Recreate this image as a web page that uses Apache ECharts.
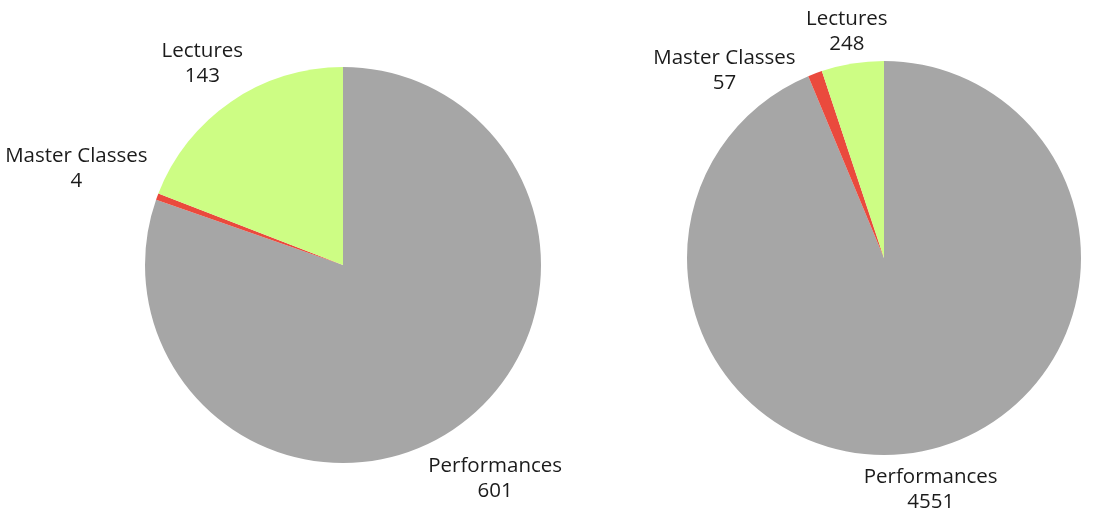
<!DOCTYPE html>
<html><head><meta charset="utf-8">
<script src="https://cdn.jsdelivr.net/npm/echarts@6/dist/echarts.min.js"></script>
<style>html,body{margin:0;padding:0;background:#fff}#c{width:1107px;height:531px}</style>
</head><body><div id="c"></div>
<script>
const categories = ['Performances', 'Master Classes', 'Lectures'];
const leftValues = [601, 4, 143];
const rightValues = [4551, 57, 248];
const colors = ['#a6a6a6', '#ea4a3d', '#cdfd84'];

// label nudges (style only)
const leftOffsets = [[8, 11], [-33, -10], [0, 4]];
const rightOffsets = [[1, 3], [-78, 31], [0, 4]];

const labelFont = { fontFamily: 'Open Sans', fontSize: 20.5, lineHeight: 25, color: '#1b1b1b' };

function pieData(vals) {
  return categories.map((n, i) => ({ name: n, value: vals[i], itemStyle: { color: colors[i] } }));
}
function labelData(vals, offs) {
  return categories.map((n, i) => ({ name: n, value: vals[i], label: { offset: offs[i] } }));
}
function mainPie(center, r, vals) {
  return {
    type: 'pie', center: center, radius: [0, r], startAngle: 90, clockwise: true,
    label: { show: false }, labelLine: { show: false }, silent: true,
    itemStyle: { borderWidth: 0 }, data: pieData(vals), animation: false
  };
}
function labelPie(center, r, vals, offs) {
  return {
    type: 'pie', center: center, radius: [0, r], startAngle: 90, clockwise: true,
    silent: true, animation: false, z: 5,
    itemStyle: { color: 'rgba(0,0,0,0)', borderWidth: 0 },
    label: Object.assign({ show: true, position: 'inside', formatter: '{b}\n{c}', align: 'center' }, labelFont),
    labelLine: { show: false }, data: labelData(vals, offs)
  };
}
const chart = echarts.init(document.getElementById('c'));
chart.setOption({
  backgroundColor: '#ffffff',
  series: [
    mainPie([343, 265], 198, leftValues),
    mainPie([884, 258], 197, rightValues),
    labelPie([343, 265], 492, leftValues, leftOffsets),
    labelPie([884, 258], 460, rightValues, rightOffsets)
  ]
});
</script></body></html>
